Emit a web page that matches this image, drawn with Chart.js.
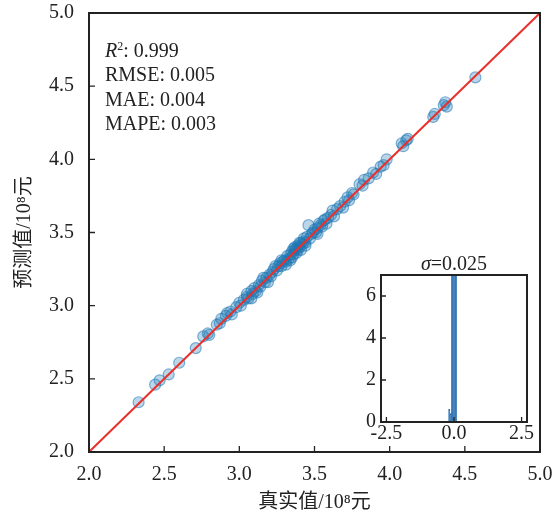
<!DOCTYPE html>
<html>
<head>
<meta charset="utf-8">
<script src="https://cdn.jsdelivr.net/npm/chart.js@4.4.1/dist/chart.umd.min.js"></script>
<style>
  body { margin: 0; background: #fff; }
  #wrap { position: relative; width: 557px; height: 515px; }
  #inset { position: absolute; left: 340px; top: 250px; }
</style>
</head>
<body>
<div id="wrap">
  <canvas id="main" width="557" height="515"></canvas>
  <canvas id="inset" width="200" height="195"></canvas>
</div>
<script>
const actualVals = [2.33, 2.44, 2.47, 2.53, 2.60, 2.71, 2.76, 2.79, 2.80, 2.85, 2.87, 2.88, 2.91, 2.92, 2.94, 2.95, 2.98,
  3.00, 3.01, 3.03, 3.05, 3.06, 3.08, 3.09, 3.10, 3.11, 3.13, 3.14, 3.15, 3.17, 3.18, 3.20, 3.21, 3.22, 3.23, 3.25,
  3.26, 3.27, 3.28, 3.29, 3.30, 3.31, 3.32, 3.33, 3.34, 3.35, 3.36, 3.37, 3.37, 3.38, 3.39, 3.40, 3.41, 3.42, 3.43,
  3.44, 3.45, 3.46, 3.47, 3.48, 3.49, 3.50, 3.51, 3.52, 3.54, 3.55, 3.56, 3.57, 3.59, 3.61, 3.62, 3.65, 3.67, 3.70,
  3.72, 3.73, 3.75, 3.76, 3.80, 3.82, 3.83, 3.86, 3.89, 3.91, 3.94, 3.96, 3.98, 4.08, 4.09, 4.11, 4.12, 4.29, 4.30,
  4.36, 4.37, 4.38, 4.57,
  3.05, 3.08, 3.12, 3.16, 3.19, 3.24, 3.28, 3.31, 3.34, 3.35, 3.36, 3.38, 3.39, 3.40, 3.41, 3.43, 3.44, 3.52, 3.53,
  3.58, 3.63, 3.69];
const predVals = [2.34, 2.46, 2.49, 2.53, 2.61, 2.71, 2.79, 2.81, 2.80, 2.87, 2.88, 2.91, 2.93, 2.95, 2.96, 2.94, 2.99,
  3.02, 3.00, 3.04, 3.06, 3.05, 3.10, 3.08, 3.12, 3.10, 3.14, 3.13, 3.17, 3.16, 3.19, 3.21, 3.20, 3.23, 3.25, 3.24,
  3.27, 3.29, 3.27, 3.30, 3.31, 3.30, 3.34, 3.32, 3.35, 3.37, 3.35, 3.38, 3.40, 3.39, 3.41, 3.40, 3.43, 3.42, 3.44,
  3.43, 3.47, 3.55, 3.46, 3.49, 3.50, 3.52, 3.50, 3.53, 3.55, 3.54, 3.58, 3.59, 3.60, 3.62, 3.65, 3.66, 3.68, 3.71,
  3.74, 3.72, 3.77, 3.76, 3.83, 3.82, 3.86, 3.87, 3.91, 3.90, 3.95, 3.96, 4.00, 4.11, 4.09, 4.13, 4.14, 4.29, 4.31,
  4.37, 4.39, 4.36, 4.56,
  3.08, 3.05, 3.09, 3.19, 3.16, 3.27, 3.31, 3.28, 3.31, 3.33, 3.39, 3.36, 3.38, 3.43, 3.38, 3.46, 3.41, 3.49, 3.56,
  3.56, 3.61, 3.67];
const axisTicks = [2.0, 2.5, 3.0, 3.5, 4.0, 4.5, 5.0];
const metricLines = ['R', 'RMSE: 0.005', 'MAE: 0.004', 'MAPE: 0.003'];

// residual histogram (density)
const residBins = [-0.175, -0.125, -0.075, -0.025, 0.025, 0.075];
const residDensity = [0.6, 0.4, 9, 15, 14, 9];
const insetXTicks = [-2.5, 0.0, 2.5];
const insetYTicks = [0, 2, 4, 6];
const sigmaText = '=0.025';

const serif = "'Liberation Serif', 'Noto Sans CJK SC', serif";

function frameAndTicks(len, lw) {
  return {
    id: 'frameTicks',
    afterDatasetsDraw(chart) {
      const ctx = chart.ctx, a = chart.chartArea;
      ctx.save();
      ctx.strokeStyle = '#222';
      ctx.lineWidth = lw;
      ctx.strokeRect(a.left, a.top, a.right - a.left, a.bottom - a.top);
      ctx.lineWidth = 1.3;
      ctx.beginPath();
      chart.scales.x.ticks.forEach(t => {
        const px = chart.scales.x.getPixelForValue(t.value);
        ctx.moveTo(px, a.bottom); ctx.lineTo(px, a.bottom - len);
      });
      chart.scales.y.ticks.forEach(t => {
        const py = chart.scales.y.getPixelForValue(t.value);
        ctx.moveTo(a.left, py); ctx.lineTo(a.left + len, py);
      });
      ctx.stroke();
      ctx.restore();
    }
  };
}

function noPad(s) {
  s.paddingLeft = 0; s.paddingRight = 0; s.paddingTop = 0; s.paddingBottom = 0;
}

const metricsText = {
  id: 'metricsText',
  afterDraw(chart) {
    const ctx = chart.ctx;
    ctx.save();
    ctx.fillStyle = '#222';
    ctx.textBaseline = 'alphabetic';
    const x0 = 105;
    const y = 57;
    ctx.font = "italic 20px " + serif;
    ctx.fillText('R', x0, y);
    const w = ctx.measureText('R').width;
    ctx.font = "12px " + serif;
    ctx.fillText('2', x0 + w, y - 7);
    const w2 = ctx.measureText('2').width;
    ctx.font = "20px " + serif;
    ctx.fillText(': 0.999', x0 + w + w2, y);
    for (let i = 1; i < metricLines.length; i++) {
      ctx.fillText(metricLines[i], x0, y + i * 24.3);
    }
    ctx.restore();
  }
};

const tickFont = { family: serif, size: 20 };

new Chart(document.getElementById('main'), {
  type: 'scatter',
  data: {
    datasets: [{
      type: 'line',
      data: [{ x: 2, y: 2 }, { x: 5, y: 5 }],
      borderColor: '#e8302c',
      borderWidth: 2,
      pointRadius: 0,
      order: 0
    }, {
      data: actualVals.map((v, i) => ({ x: v, y: predVals[i] })),
      backgroundColor: 'rgba(31,119,180,0.3)',
      borderColor: 'rgba(31,119,180,0.55)',
      borderWidth: 1.2,
      pointRadius: 5.5,
      order: 1
    }]
  },
  options: {
    responsive: false,
    animation: false,
    devicePixelRatio: 1,
    layout: { padding: { top: 13, right: 17, left: 0, bottom: 0 } },
    plugins: { legend: { display: false }, tooltip: { enabled: false } },
    scales: {
      x: {
        type: 'linear', min: 2, max: 5,
        afterBuildTicks: s => { s.ticks = axisTicks.map(v => ({ value: v })); },
        afterFit: s => { s.height = 63; noPad(s); },
        grid: { display: false, drawTicks: false },
        border: { display: false },
        ticks: { font: tickFont, color: '#222', padding: 11, maxRotation: 0, callback: v => v.toFixed(1) },
        title: { display: true, text: '真实值/10⁸元', font: { family: serif, size: 20 }, color: '#222', padding: { top: 0, bottom: 0 } }
      },
      y: {
        type: 'linear', min: 2, max: 5,
        afterBuildTicks: s => { s.ticks = axisTicks.map(v => ({ value: v })); },
        afterFit: s => { s.width = 89; noPad(s); },
        grid: { display: false, drawTicks: false },
        border: { display: false },
        ticks: { font: tickFont, color: '#222', padding: 15, callback: v => v.toFixed(1) },
        title: { display: true, text: '预测值/10⁸元', font: { family: serif, size: 20 }, color: '#222', padding: { top: 13, bottom: 0 } }
      }
    }
  },
  plugins: [frameAndTicks(6, 2), metricsText]
});

const insetBg = {
  id: 'insetBg',
  beforeDraw(chart) {
    const ctx = chart.ctx, a = chart.chartArea;
    ctx.save();
    ctx.fillStyle = '#fff';
    ctx.fillRect(a.left, a.top, a.right - a.left, a.bottom - a.top);
    ctx.restore();
  },
  afterDraw(chart) {
    const ctx = chart.ctx, a = chart.chartArea;
    ctx.save();
    ctx.fillStyle = '#222';
    ctx.textBaseline = 'alphabetic';
    ctx.font = "italic 20px " + serif;
    const w1 = ctx.measureText('σ').width;
    ctx.font = "20px " + serif;
    const w2 = ctx.measureText(sigmaText).width;
    const x0 = (a.left + a.right) / 2 - (w1 + w2) / 2;
    ctx.font = "italic 20px " + serif;
    ctx.fillText('σ', x0, 20);
    ctx.font = "20px " + serif;
    ctx.fillText(sigmaText, x0 + w1, 20);
    ctx.restore();
  }
};

const insetFont = { family: serif, size: 20 };

new Chart(document.getElementById('inset'), {
  type: 'bar',
  data: {
    datasets: [{
      data: residBins.map((v, i) => ({ x: v, y: residDensity[i] })),
      backgroundColor: '#1a66aa',
      borderColor: '#1a66aa',
      borderWidth: 0.8,
      barPercentage: 1,
      categoryPercentage: 1
    }]
  },
  options: {
    responsive: false,
    animation: false,
    devicePixelRatio: 1,
    layout: { padding: { top: 25, right: 13, left: 0, bottom: 0 } },
    plugins: { legend: { display: false }, tooltip: { enabled: false } },
    scales: {
      x: {
        type: 'linear', min: -2.7, max: 2.7, offset: false,
        afterBuildTicks: s => { s.ticks = insetXTicks.map(v => ({ value: v })); },
        afterFit: s => { s.height = 23; noPad(s); },
        grid: { display: false, drawTicks: false },
        border: { display: false },
        ticks: { font: insetFont, color: '#222', padding: 0, maxRotation: 0, callback: v => v.toFixed(1) }
      },
      y: {
        min: 0, max: 7,
        afterBuildTicks: s => { s.ticks = insetYTicks.map(v => ({ value: v })); },
        afterFit: s => { s.width = 41; noPad(s); },
        grid: { display: false, drawTicks: false },
        border: { display: false },
        ticks: { font: insetFont, color: '#222', padding: 5 }
      }
    }
  },
  plugins: [insetBg, frameAndTicks(5, 2)]
});
</script>
</body>
</html>
